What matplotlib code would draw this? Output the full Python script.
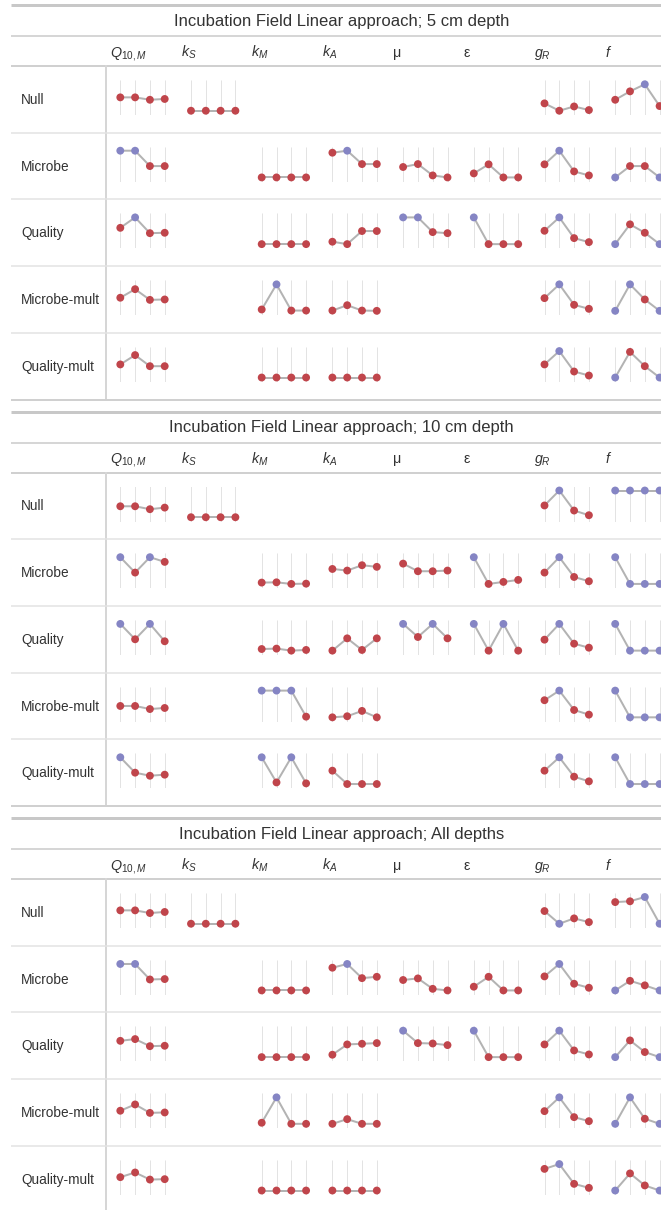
import matplotlib as mpl
mpl.use('Agg')
import matplotlib.pyplot as plt

# panels / rows / columns
depths = ['5 cm depth', '10 cm depth', 'All depths']
models = ['Null', 'Microbe', 'Quality', 'Microbe-mult', 'Quality-mult']
params = [r'$\mathit{Q}_{\mathit{10,M}}$', r'$\mathit{k}_{\mathit{S}}$', r'$\mathit{k}_{\mathit{M}}$',
          r'$\mathit{k}_{\mathit{A}}$', 'μ', 'ε', r'$\mathit{g}_{\mathit{R}}$', r'$\mathit{f}$']

# values per cell (None = empty cell); 'p' = purple point
z = [0, 0, 0, 0]
v5_null = [[0.5, 0.5, 0.41, 0.44], z, None, None, None, None, [0.275, 0, 0.16, 0.025], [0.41, 0.725, 0.99, 0.175]]
c5_null = ['rrrr', 'rrrr', None, None, None, None, 'rrrr', 'rrpr']
v5_mic = [[1, 1, 0.425, 0.425], None, z, [0.925, 1, 0.5, 0.5], [0.39, 0.5, 0.075, 0], [0.15, 0.49, 0, 0], [0.49, 1, 0.225, 0.075], [0, 0.425, 0.425, 0]]
c5_mic = ['pprr', None, 'rrrr', 'rprr', 'rrrr', 'rrrr', 'rprr', 'prrp']
v5_qual = [[0.61, 1, 0.41, 0.425], None, z, [0.09, 0, 0.49, 0.49], [1, 1, 0.45, 0.41], [1, 0, 0, 0], [0.5, 1, 0.225, 0.075], [0, 0.74, 0.425, 0]]
c5_qual = ['rprr', None, 'rrrr', 'rrrr', 'pprr', 'prrr', 'rprr', 'prrp']
v5_micm = [[0.49, 0.81, 0.41, 0.425], None, [0.05, 0.99, 0.01, 0.01], [0.01, 0.21, 0.01, 0], None, None, [0.475, 0.99, 0.225, 0.075], [0, 0.99, 0.425, 0]]
c5_micm = ['rrrr', None, 'rprr', 'rrrr', None, None, 'rprr', 'pprp']
v5_qualm = [[0.49, 0.84, 0.425, 0.425], None, z, z, None, None, [0.49, 0.99, 0.225, 0.075], [0, 0.96, 0.425, 0]]
c5_qualm = ['rrrr', None, 'rrrr', 'rrrr', None, None, 'rprr', 'prrp']

v10_null = [[0.41, 0.41, 0.3, 0.36], z, None, None, None, None, [0.44, 1, 0.25, 0.075], [1, 1, 1, 1]]
c10_null = ['rrrr', 'rrrr', None, None, None, None, 'rprr', 'pppp']
v10_mic = [[1, 0.425, 1, 0.825], None, [0.05, 0.06, 0, 0.01], [0.56, 0.5, 0.7, 0.64], [0.76, 0.475, 0.475, 0.5], [1, 0, 0.075, 0.15], [0.425, 1, 0.26, 0.1], [1, 0, 0, 0]]
c10_mic = ['prpr', None, 'rrrr', 'rrrr', 'rrrr', 'prrr', 'rprr', 'pppp']
v10_qual = [[1, 0.425, 1, 0.35], None, [0.06, 0.075, 0, 0.025], [0, 0.46, 0.025, 0.46], [1, 0.51, 1, 0.46], [1, 0, 1, 0], [0.41, 1, 0.26, 0.11], [1, 0, 0, 0]]
c10_qual = ['prpr', None, 'rrrr', 'rrrr', 'prpr', 'prpr', 'rprr', 'pppp']
v10_micm = [[0.425, 0.425, 0.31, 0.35], None, [1, 1, 1, 0.025], [0, 0.04, 0.24, 0], None, None, [0.64, 1, 0.275, 0.1], [1, 0, 0, 0]]
c10_micm = ['rrrr', None, 'pppr', 'rrrr', None, None, 'rprr', 'pppp']
v10_qualm = [[1, 0.425, 0.31, 0.35], None, [1, 0.06, 1, 0.025], [0.5, 0, 0, 0], None, None, [0.5, 1, 0.275, 0.1], [1, 0, 0, 0]]
c10_qualm = ['prrr', None, 'prpr', 'rrrr', None, None, 'rprr', 'pppp']

vall_null = [[0.5, 0.5, 0.4, 0.44], z, None, None, None, None, [0.475, 0, 0.2, 0.06], [0.81, 0.84, 1, 0]]
call_null = ['rrrr', 'rrrr', None, None, None, None, 'rprr', 'rrpp']
vall_mic = [[0.99, 0.99, 0.41, 0.425], None, z, [0.85, 0.99, 0.46, 0.51], [0.39, 0.45, 0.06, 0], [0.14, 0.51, 0, 0], [0.525, 0.99, 0.25, 0.1], [0, 0.36, 0.19, 0]]
call_mic = ['pprr', None, 'rrrr', 'rprr', 'rrrr', 'rrrr', 'rprr', 'prrp']
vall_qual = [[0.61, 0.675, 0.41, 0.425], None, z, [0.09, 0.475, 0.5, 0.525], [0.99, 0.525, 0.51, 0.45], [0.99, 0, 0, 0], [0.475, 0.99, 0.25, 0.1], [0, 0.625, 0.19, 0]]
call_qual = ['rrrr', None, 'rrrr', 'rrrr', 'prrr', 'prrr', 'rprr', 'prrp']
vall_micm = [[0.49, 0.725, 0.41, 0.425], None, [0.04, 0.99, 0, 0], [0, 0.175, 0, 0], None, None, [0.475, 0.99, 0.25, 0.1], [0, 0.99, 0.19, 0]]
call_micm = ['rrrr', None, 'rprr', 'rrrr', None, None, 'rprr', 'pprp']
vall_qualm = [[0.5, 0.675, 0.41, 0.425], None, z, z, None, None, [0.81, 0.99, 0.25, 0.1], [0, 0.64, 0.19, 0]]
call_qualm = ['rrrr', None, 'rrrr', 'rrrr', None, None, 'rprr', 'prrp']

panel_vals = [[v5_null, v5_mic, v5_qual, v5_micm, v5_qualm],
              [v10_null, v10_mic, v10_qual, v10_micm, v10_qualm],
              [vall_null, vall_mic, vall_qual, vall_micm, vall_qualm]]
panel_cols = [[c5_null, c5_mic, c5_qual, c5_micm, c5_qualm],
              [c10_null, c10_mic, c10_qual, c10_micm, c10_qualm],
              [call_null, call_mic, call_qual, call_micm, call_qualm]]

plt.rcParams['font.family'] = ['Liberation Sans', 'DejaVu Sans']
plt.rcParams['mathtext.fontset'] = 'custom'
plt.rcParams['mathtext.rm'] = 'Liberation Sans'
plt.rcParams['mathtext.it'] = 'Liberation Sans:italic'

W, H = 661, 1210
fig = plt.figure(figsize=(W / 100, H / 100), dpi=100)
base = fig.add_axes([0, 0, 1, 1])
base.set_xlim(0, W)
base.set_ylim(H, 0)
base.axis('off')

TXT = '#333333'
RED = '#c0454b'
PURP = '#8585c4'
px = 0.72  # points per pixel

panel_tops = [5, 411.5, 818]
row_h = 66.7
col_x0 = 120.3
col_w = 70.7
step = 14.8


def hline(y, lw, color):
    base.plot([11, W + 20], [y, y], color=color, lw=lw * px, solid_capstyle='butt')


for p, top in enumerate(panel_tops):
    hline(top, 3, '#c8c8c8')
    base.text(341.5, top + 20.7, 'Incubation Field Linear approach; ' + depths[p],
              ha='center', va='baseline', fontsize=12, color=TXT)
    hline(top + 31, 2, '#d6d6d6')
    for j, lab in enumerate(params):
        base.text(110 + col_w * j, top + 51.7, lab, ha='left', va='baseline',
                  fontsize=10.3, color=TXT)
    hdr = top + 61
    hline(hdr, 2, '#d0d0d0')
    base.plot([106, 106], [hdr, hdr + 5 * row_h], color='#d6d6d6', lw=2 * px)
    for r, m in enumerate(models):
        rt = hdr + r * row_h
        base.text(21, rt + 38, m, ha='left', va='baseline', fontsize=9.8, color=TXT)
        if r < 4:
            hline(rt + row_h, 1.5, '#e2e2e2')
        else:
            hline(rt + row_h, 2, '#d0d0d0')
        for j in range(len(params)):
            vals = panel_vals[p][r][j]
            if vals is None:
                continue
            cols = panel_cols[p][r][j]
            x0 = col_x0 + col_w * j
            left = x0 - 7
            wid = 3 * step + 14
            ytop = rt + 14
            ax = fig.add_axes([left / W, 1 - (ytop + 35) / H, wid / W, 35 / H])
            ax.set_xlim(-7 / step, 3 + 7 / step)
            ax.set_ylim(-0.16, 1.15)
            ax.axis('off')
            xs = list(range(len(vals)))
            ax.vlines(xs, -0.16, 1.15, color='#e3e3e3', lw=1 * px)
            ax.plot(xs, vals, color='#b3b3b3', lw=2 * px, clip_on=False, zorder=2)
            ax.scatter(xs, vals, s=32, c=[PURP if c == 'p' else RED for c in cols],
                       edgecolors='none', clip_on=False, zorder=3)

fig.savefig('out.png', dpi=100)
